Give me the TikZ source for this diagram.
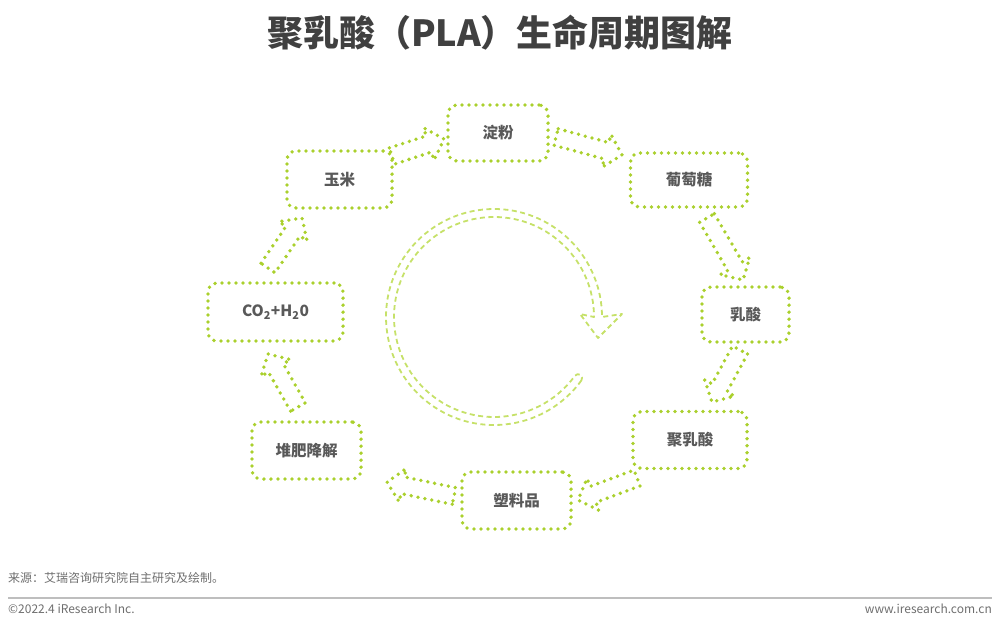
\documentclass[tikz,border=0pt]{standalone}
\usepackage{fontspec}
\setmainfont{Noto Sans CJK SC}
\usetikzlibrary{calc}
\definecolor{dotgreen}{RGB}{170,208,45}
\definecolor{ringgreen}{RGB}{198,225,105}
\definecolor{titlegray}{RGB}{64,64,64}
\definecolor{labelgray}{RGB}{89,89,89}
\definecolor{footgray}{RGB}{110,110,110}
\definecolor{rulegray}{RGB}{190,190,190}
\newcommand\blockarrow[2]{%
  \coordinate (ba-h) at ($(#2)!16pt!(#1)$);
  \draw[dotline] ($(#1)!8.5pt!90:(#2)$) -- ($(ba-h)!8.5pt!90:(#2)$) -- ($(ba-h)!17pt!90:(#2)$) -- (#2)
    -- ($(ba-h)!17pt!-90:(#2)$) -- ($(ba-h)!8.5pt!-90:(#2)$) -- ($(#1)!8.5pt!-90:(#2)$) -- cycle;}
\begin{document}
\begin{tikzpicture}[x=1pt,y=1pt,
  dotline/.style={draw=dotgreen, line width=3.8pt, dash pattern=on 0pt off 7pt, line cap=round, line join=round},
  stage/.style={dotline, rounded corners=9pt, font=\bfseries\fontsize{15.5}{18}\selectfont, text=labelgray, inner sep=0pt},
  ringline/.style={draw=ringgreen, line width=1.8pt, dash pattern=on 5pt off 3.5pt, line join=round},
  foot/.style={font=\fontsize{12}{14}\selectfont, text=footgray, inner sep=0pt}]
\useasboundingbox (0,0) rectangle (1000,-629);
\node[font=\bfseries\fontsize{36}{42}\selectfont, text=titlegray] (title) at (500,-33) {聚乳酸（PLA）生命周期图解};
% stages
\node[stage, minimum width=100pt, minimum height=56pt] (dianfen) at (498,-133) {淀粉};
\node[stage, minimum width=117pt, minimum height=54pt] (putaotang) at (689,-180) {葡萄糖};
\node[stage, minimum width=87pt, minimum height=55pt] (rusuan) at (745.5,-314.5) {乳酸};
\node[stage, minimum width=114pt, minimum height=57pt] (julusuan) at (690,-440) {聚乳酸};
\node[stage, minimum width=109pt, minimum height=57pt] (suliao) at (516.5,-500.5) {塑料品};
\node[stage, minimum width=109pt, minimum height=57pt] (duifei) at (306.5,-450.5) {堆肥降解};
\node[stage, minimum width=135pt, minimum height=58pt] (co2) at (275.5,-312) {CO\textsubscript{2}+H\textsubscript{2}0};
\node[stage, minimum width=105pt, minimum height=57pt] (yumi) at (339.5,-179.5) {玉米};
% block arrow ends
\coordinate (a1t) at (392,-156); \coordinate (a1h) at (444,-139);
\coordinate (a2t) at (556,-137); \coordinate (a2h) at (622,-155);
\coordinate (a3t) at (707,-218); \coordinate (a3h) at (743,-280);
\coordinate (a4t) at (740,-350); \coordinate (a4h) at (712,-402);
\coordinate (a5t) at (637,-478); \coordinate (a5h) at (578,-500);
\coordinate (a6t) at (454,-496); \coordinate (a6h) at (387,-482);
\coordinate (a7t) at (298,-407); \coordinate (a7h) at (268,-354);
\coordinate (a8t) at (268,-268); \coordinate (a8h) at (302,-218);
\blockarrow{a1t}{a1h}
\blockarrow{a2t}{a2h}
\blockarrow{a3t}{a3h}
\blockarrow{a4t}{a4h}
\blockarrow{a5t}{a5h}
\blockarrow{a6t}{a6h}
\blockarrow{a7t}{a7h}
\blockarrow{a8t}{a8h}
% circular arrow
\coordinate (cc) at (494,-317);
\draw[ringline] ($(cc)+(-36:108)$) arc[start angle=-36, end angle=-360, radius=108]
  -- ($(cc)+(128,3)$) -- ($(cc)+(104,-21)$) -- ($(cc)+(86,3)$) -- ($(cc)+(100,0)$)
  arc[start angle=0, end angle=324, radius=100]
  arc[start angle=144, end angle=-36, radius=4] -- cycle;
% footer
\node[foot, anchor=west] (src) at (8,-578) {来源：艾瑞咨询研究院自主研究及绘制。};
\coordinate (ruleL) at (8,-598); \coordinate (ruleR) at (992,-598);
\draw[rulegray, line width=1.5pt] (ruleL) -- (ruleR);
\node[foot, anchor=west] (copy) at (8,-609) {©2022.4 iResearch Inc.};
\node[foot, anchor=east] (web) at (992,-609) {www.iresearch.com.cn};
\end{tikzpicture}
\end{document}
